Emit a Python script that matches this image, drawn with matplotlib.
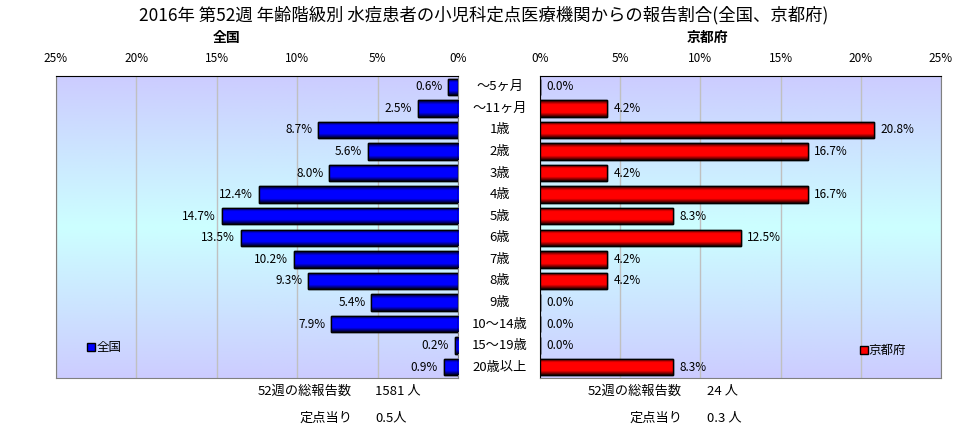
import matplotlib
matplotlib.use('Agg')
import matplotlib.pyplot as plt
import numpy as np
from matplotlib.colors import LinearSegmentedColormap
from matplotlib.patches import Patch

plt.rcParams['font.family'] = ['Noto Sans CJK JP', 'DejaVu Sans']

# データ
ages = ['～5ヶ月', '～11ヶ月', '1歳', '2歳', '3歳', '4歳', '5歳', '6歳',
        '7歳', '8歳', '9歳', '10～14歳', '15～19歳', '20歳以上']
zenkoku = [0.6, 2.5, 8.7, 5.6, 8.0, 12.4, 14.7, 13.5, 10.2, 9.3, 5.4, 7.9, 0.2, 0.9]
kyoto = [0.0, 4.2, 20.8, 16.7, 4.2, 16.7, 8.3, 12.5, 4.2, 4.2, 0.0, 0.0, 0.0, 8.3]
ticks = [0, 5, 10, 15, 20, 25]

title = '2016年 第52週 年齢階級別 水痘患者の小児科定点医療機関からの報告割合(全国、京都府)'
total_z, per_z = '1581 人', '0.5人'
total_k, per_k = '24 人', '0.3 人'

fig = plt.figure(figsize=(9.68, 4.32), dpi=100)
ax_l = fig.add_axes([56 / 968, 1 - 378 / 432, 402 / 968, 302 / 432])
ax_r = fig.add_axes([540 / 968, 1 - 378 / 432, 401 / 968, 302 / 432])

bg = LinearSegmentedColormap.from_list('bg', ['#ccccff', '#ccffff', '#ccccff'])
y = np.arange(len(ages))


def shaded_bars(ax, vals, base, dark):
    cm = LinearSegmentedColormap.from_list('b', [dark, base, base, base, dark])
    grad = np.linspace(0, 1, 64).reshape(-1, 1)
    bars = ax.barh(y, vals, height=0.76, color=base, edgecolor='black', linewidth=1, zorder=3)
    for b in bars:
        if b.get_width() <= 0:
            continue
        x0, y0 = b.get_x(), b.get_y()
        im = ax.imshow(grad, cmap=cm, aspect='auto', zorder=3.5,
                       extent=[x0, x0 + b.get_width(), y0 + b.get_height(), y0])
        im.set_clip_path(b)
    # 枠線を上に
    ax.barh(y, vals, height=0.76, color='none', edgecolor='black', linewidth=1, zorder=4)
    return bars


for ax, vals, base, dark in [(ax_l, zenkoku, '#0000ff', '#000022'),
                             (ax_r, kyoto, '#ff0000', '#220000')]:
    ax.imshow(np.linspace(0, 1, 256).reshape(-1, 1), cmap=bg, aspect='auto',
              extent=[0, 1, 0, 1], transform=ax.transAxes, zorder=0)
    shaded_bars(ax, vals, base, dark)
    ax.set_ylim(len(ages) - 0.5, -0.5)
    ax.set_xticks(ticks)
    ax.set_xticklabels([f'{t}%' for t in ticks])
    ax.xaxis.tick_top()
    ax.tick_params(axis='x', length=0, labelsize=8.5, pad=8)
    ax.set_yticks([])
    ax.grid(axis='x', color='#c0c0c0', linewidth=1, zorder=1)
    for s in ax.spines.values():
        s.set_color('#808080')
    ax.spines['top'].set_color('black')
    for i, v in enumerate(vals):
        if ax is ax_l:
            ax.text(v + 0.35, i, f'{v:.1f}%', ha='right', va='center', fontsize=8.5, zorder=5)
        else:
            ax.text(v + 0.4, i, f'{v:.1f}%', ha='left', va='center', fontsize=8.5, zorder=5)

ax_l.set_xlim(25, 0)
ax_r.set_xlim(0, 25)
ax_r.spines['left'].set_color('black')

# 凡例
ax_l.legend(handles=[Patch(facecolor='#0000ff', edgecolor='black', label='全国')],
            loc='center left', bbox_to_anchor=(0.05, 0.1), frameon=False,
            handlelength=0.6, handleheight=0.6, handletextpad=0.1, fontsize=9)
ax_r.legend(handles=[Patch(facecolor='#ff0000', edgecolor='black', label='京都府')],
            loc='center left', bbox_to_anchor=(0.77, 0.09), frameon=False,
            handlelength=0.6, handleheight=0.6, handletextpad=0.1, fontsize=9)

# 年齢区分
for i, a in enumerate(ages):
    yy = ax_l.transData.transform((0, i))[1]
    fig.text(500 / 968, yy / fig.dpi / 4.32, a, ha='center', va='center', fontsize=9.5)

fig.text(0.5, 1 - 15 / 432, title, ha='center', va='center', fontsize=12.5)
fig.text(227 / 968, 1 - 38 / 432, '全国', ha='center', va='center', fontsize=10, fontweight='bold')
fig.text(707 / 968, 1 - 38 / 432, '京都府', ha='center', va='center', fontsize=10, fontweight='bold')

fig.text(352 / 968, 1 - 391 / 432, '52週の総報告数', ha='right', va='center', fontsize=9.5)
fig.text(375 / 968, 1 - 391 / 432, total_z, ha='left', va='center', fontsize=9.5)
fig.text(352 / 968, 1 - 418 / 432, '定点当り', ha='right', va='center', fontsize=9.5)
fig.text(375 / 968, 1 - 418 / 432, per_z, ha='left', va='center', fontsize=9.5)
fig.text(682 / 968, 1 - 391 / 432, '52週の総報告数', ha='right', va='center', fontsize=9.5)
fig.text(707 / 968, 1 - 391 / 432, total_k, ha='left', va='center', fontsize=9.5)
fig.text(682 / 968, 1 - 418 / 432, '定点当り', ha='right', va='center', fontsize=9.5)
fig.text(707 / 968, 1 - 418 / 432, per_k, ha='left', va='center', fontsize=9.5)

fig.savefig('out.png', dpi=100)
